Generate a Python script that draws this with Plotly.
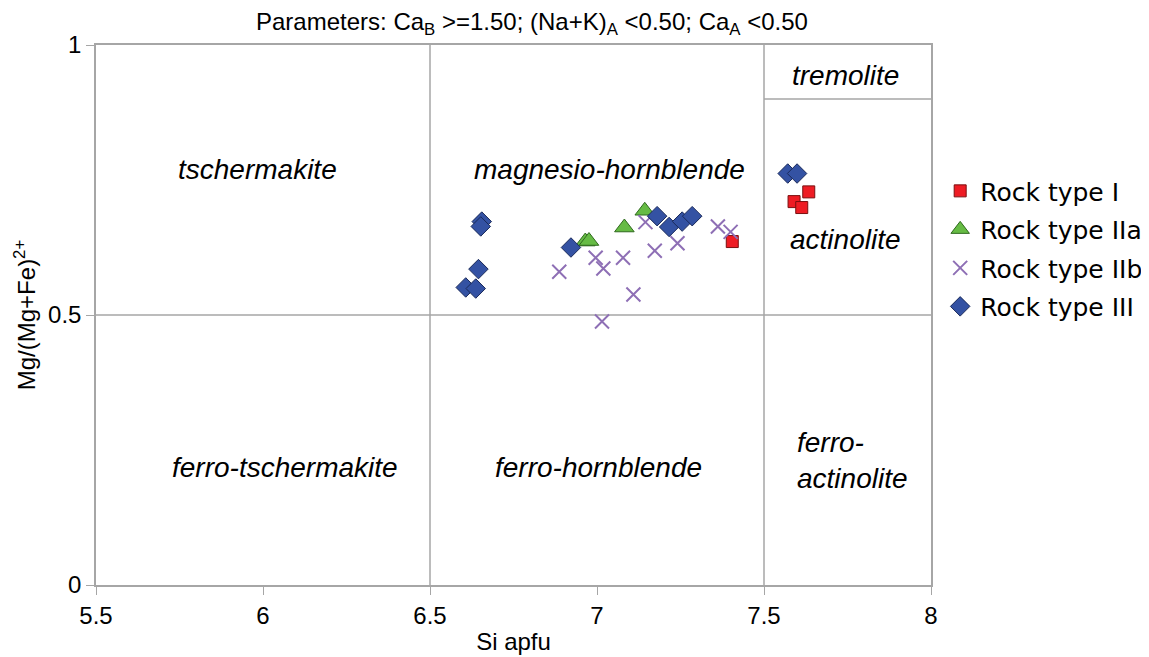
import plotly.graph_objects as go

# Data (Si apfu, Mg/(Mg+Fe2+))
rock_I_si = [7.405, 7.634, 7.590, 7.613]
rock_I_mg = [0.636, 0.728, 0.710, 0.699]

rock_IIa_si = [7.143, 7.082, 6.965, 6.976]
rock_IIa_mg = [0.693, 0.662, 0.636, 0.637]

rock_IIb_si = [6.887, 6.996, 7.019, 7.078, 7.109, 7.015, 7.145, 7.173, 7.241, 7.362, 7.400]
rock_IIb_mg = [0.580, 0.606, 0.586, 0.606, 0.538, 0.488, 0.672, 0.619, 0.633, 0.664, 0.654]

rock_III_si = [6.655, 6.652, 6.645, 6.607, 6.637, 6.922, 7.180, 7.216, 7.255, 7.285, 7.571, 7.599]
rock_III_mg = [0.673, 0.664, 0.585, 0.551, 0.549, 0.625, 0.683, 0.663, 0.673, 0.683, 0.762, 0.762]

x_ticks = [5.5, 6, 6.5, 7, 7.5, 8]
y_ticks = [0, 0.5, 1]

# Field labels
field_names = ["tschermakite", "magnesio-hornblende", "tremolite", "actinolite",
               "ferro-tschermakite", "ferro-hornblende", "ferro-<br>actinolite"]
field_x = [5.983, 7.036, 7.745, 7.745, 6.066, 7.003, 7.593]
field_y = [0.769, 0.769, 0.944, 0.639, 0.2185, 0.217, 0.231]
field_anchor = ["center", "center", "center", "center", "center", "center", "left"]

# Boundary lines: (x0, y0, x1, y1)
boundaries = [(6.5, 0, 6.5, 1), (7.5, 0, 7.5, 1), (5.5, 0.5, 8, 0.5), (7.5, 0.9, 8, 0.9)]

fig = go.Figure()

line_col = "#a6a6a6"
for (x0, y0, x1, y1) in boundaries:
    fig.add_shape(type="line", x0=x0, y0=y0, x1=x1, y1=y1, xref="x", yref="y",
                  line=dict(color=line_col, width=1.5), layer="below")

fig.add_trace(go.Scatter(x=rock_I_si, y=rock_I_mg, mode="markers", name="Rock type I",
                         legendgroup="g1",
                         marker=dict(symbol="square", size=12, color="#ee1c24",
                                     line=dict(color="#7a1010", width=1))))
fig.add_trace(go.Scatter(x=rock_IIa_si, y=rock_IIa_mg, mode="markers", name="Rock type IIa",
                         legendgroup="g2",
                         marker=dict(symbol="triangle-up", size=17, color="#66bb44",
                                     line=dict(color="#2f6a1e", width=1))))
fig.add_trace(go.Scatter(x=rock_IIb_si, y=rock_IIb_mg, mode="markers", name="Rock type IIb",
                         legendgroup="g3",
                         marker=dict(symbol="x-thin", size=14, color="#8e6fb5",
                                     line=dict(color="#8e6fb5", width=2))))
fig.add_trace(go.Scatter(x=rock_III_si, y=rock_III_mg, mode="markers", name="Rock type III",
                         legendgroup="g4",
                         marker=dict(symbol="diamond", size=15, color="#3452a3",
                                     line=dict(color="#1a2a5a", width=1))))

for name, xx, yy, anc in zip(field_names, field_x, field_y, field_anchor):
    fig.add_annotation(x=xx, y=yy, xref="x", yref="y", text="<i>" + name + "</i>",
                       showarrow=False, xanchor=anc, align="left",
                       font=dict(family="Liberation Sans, Arial", size=28, color="#000000"))

fig.add_annotation(x=0.5226, y=1.072, xref="paper", yref="paper",
                   text="Parameters: Ca<sub>B</sub> &gt;=1.50; (Na+K)<sub>A</sub> &lt;0.50; Ca<sub>A</sub> &lt;0.50",
                   showarrow=False, font=dict(family="Liberation Sans, Arial", size=24, color="#000000"))

axis_font = dict(family="Liberation Sans, Arial", size=24, color="#000000")
fig.update_xaxes(range=[5.5, 8], tickvals=x_ticks, ticktext=[str(v) for v in x_ticks],
                 showgrid=False, zeroline=False, showline=True, mirror=True,
                 linecolor=line_col, linewidth=1.5, ticks="outside", ticklen=8,
                 tickcolor=line_col, tickfont=axis_font,
                 title=dict(text="Si apfu", font=axis_font, standoff=6))
fig.update_yaxes(range=[0, 1], tickvals=y_ticks, ticktext=["0", "0.5", "1"],
                 showgrid=False, zeroline=False, showline=True, mirror=True,
                 linecolor=line_col, linewidth=1.5, ticks="outside", ticklen=8,
                 tickcolor=line_col, tickfont=axis_font,
                 title=dict(text="Mg/(Mg+Fe)<sup>2+</sup>", font=axis_font, standoff=6))

# page body adds an 8px offset; the figure is sized and padded to compensate
fig.update_layout(width=1141, height=649, plot_bgcolor="white", paper_bgcolor="white",
                  margin=dict(l=88, r=218, t=37, b=72, autoexpand=False),
                  legend=dict(x=1.011, y=0.772, xanchor="left", yanchor="top",
                              font=dict(family="DejaVu Sans, Verdana", size=25, color="#000000"),
                              itemwidth=30, tracegroupgap=3, bgcolor="rgba(0,0,0,0)"),
                  showlegend=True)

fig.write_html("out.html")
